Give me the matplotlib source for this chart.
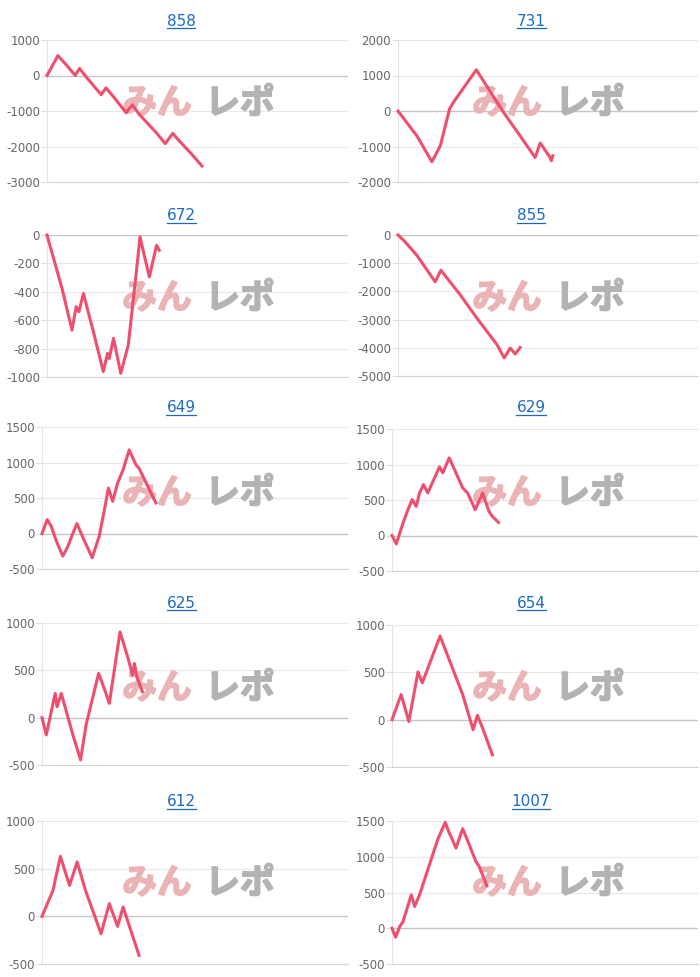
import matplotlib
matplotlib.use("Agg")
import matplotlib.pyplot as plt
import matplotlib.patheffects as pe
from matplotlib.lines import Line2D

# machine numbers shown as panel titles
titles = ["858", "731", "672", "855", "649", "629", "625", "654", "612", "1007"]

# y ticks of each panel
ticks_858 = [1000, 0, -1000, -2000, -3000]
ticks_731 = [2000, 1000, 0, -1000, -2000]
ticks_672 = [0, -200, -400, -600, -800, -1000]
ticks_855 = [0, -1000, -2000, -3000, -4000, -5000]
ticks_649 = [1500, 1000, 500, 0, -500]
ticks_629 = [1500, 1000, 500, 0, -500]
ticks_625 = [1000, 500, 0, -500]
ticks_654 = [1000, 500, 0, -500]
ticks_612 = [1000, 500, 0, -500]
ticks_1007 = [1500, 1000, 500, 0, -500]

# progress (x, share of the day) and balance (y)
x_858 = [0, 0.8, 3.6, 6.3, 9.4, 10.8, 13.0, 18.0, 19.6, 22.4, 26.3, 28.3, 30.7, 36.3, 39.3, 41.8, 43.5, 47.9, 51.5]
y_858 = [0, 120, 560, 310, 0, 200, -40, -540, -350, -630, -1050, -820, -1100, -1610, -1920, -1630, -1800, -2200, -2550]

x_731 = [0, 6.3, 11.3, 14.1, 17.2, 18.5, 26.1, 35.2, 40.7, 45.7, 47.4, 50.7, 51.1, 51.6]
y_731 = [0, -700, -1430, -980, 60, 250, 1160, -40, -700, -1310, -900, -1310, -1400, -1260]

x_672 = [0, 2.2, 5.0, 8.3, 9.7, 10.6, 12.1, 15.4, 18.7, 20.1, 20.7, 22.1, 24.5, 27.0, 29.8, 30.9, 34.0, 36.4, 37.3]
y_672 = [0, -166, -377, -670, -505, -540, -412, -681, -962, -834, -870, -728, -974, -775, -236, -14, -295, -73, -108]

x_855 = [0, 1.9, 6.3, 12.4, 14.3, 20.8, 26.3, 33.0, 35.4, 37.4, 39.1, 40.7]
y_855 = [0, -190, -720, -1660, -1250, -2130, -2950, -3890, -4360, -4010, -4220, -3990]

x_649 = [0, 1.7, 3.0, 4.7, 6.8, 8.5, 9.5, 11.4, 13.9, 16.4, 18.7, 20.4, 21.7, 23.1, 24.7, 26.5, 28.5, 30.7, 31.7, 37.2]
y_649 = [0, 196, 103, -107, -318, -178, -61, 140, -107, -341, -37, 336, 640, 453, 710, 897, 1178, 967, 920, 430]

x_629 = [0, 1.4, 3.6, 5.2, 6.6, 7.9, 9.0, 10.3, 11.7, 15.5, 16.6, 18.7, 23.1, 24.7, 27.2, 29.6, 31.7, 32.8, 34.8]
y_629 = [0, -118, 175, 363, 505, 410, 599, 717, 599, 967, 882, 1094, 670, 599, 363, 599, 340, 269, 184]

x_625 = [0, 1.4, 4.3, 4.9, 6.3, 10.1, 12.6, 14.4, 18.5, 20.7, 22.0, 25.5, 28.0, 29.6, 30.2, 31.0, 32.8]
y_625 = [0, -182, 256, 116, 256, -182, -446, -77, 468, 274, 151, 905, 642, 449, 572, 432, 274]

x_654 = [0, 3.0, 5.5, 8.5, 9.9, 15.7, 23.1, 26.5, 27.9, 29.6, 32.8]
y_654 = [0, 265, -20, 505, 389, 883, 265, -106, 46, -88, -371]

x_612 = [0, 3.6, 6.0, 9.0, 11.5, 14.2, 19.3, 22.0, 24.7, 26.5, 31.7]
y_612 = [0, 273, 629, 325, 570, 273, -182, 133, -105, 98, -409]

x_1007 = [0, 1.2, 2.5, 3.6, 6.3, 7.4, 9.0, 15.0, 17.4, 18.7, 19.5, 20.9, 23.1, 24.5, 27.4, 28.5, 31.0]
y_1007 = [0, -126, 23, 93, 467, 304, 467, 1248, 1481, 1332, 1262, 1121, 1392, 1248, 935, 864, 593]

series = [
    (x_858, y_858, ticks_858), (x_731, y_731, ticks_731),
    (x_672, y_672, ticks_672), (x_855, y_855, ticks_855),
    (x_649, y_649, ticks_649), (x_629, y_629, ticks_629),
    (x_625, y_625, ticks_625), (x_654, y_654, ticks_654),
    (x_612, y_612, ticks_612), (x_1007, y_1007, ticks_1007),
]

# axes boxes in pixels: left, top, bottom
boxes = [
    (47, 40, 182), (398, 40, 182),
    (47, 235, 377), (398, 235, 376),
    (42, 427, 569), (392, 429, 571),
    (42, 623, 765), (392, 625, 767),
    (42, 821, 964), (392, 821, 964),
]
title_y = [21, 21, 216, 216, 408, 408, 603, 603, 802, 802]

W, H = 700, 977
fig = plt.figure(figsize=(W / 100, H / 100), dpi=100)
fig.patch.set_facecolor("white")

line_color = "#ef4f6e"
link_color = "#1a6ac4"
jp = ["Noto Sans CJK JP", "DejaVu Sans"]

title_texts = []
for i, (xs, ys, ticks) in enumerate(series):
    col = i % 2
    row = i // 2
    left, top, bottom = boxes[i]
    right = col * 350 + 348
    ax = fig.add_axes([left / W, 1 - bottom / H, (right - left) / W, (bottom - top) / H])
    ax.set_xlim(0, 100)
    ax.set_ylim(min(ticks), max(ticks))
    ax.set_yticks(ticks)
    ax.set_yticklabels([str(t) for t in ticks])
    ax.set_xticks([])
    ax.tick_params(axis="y", length=4, width=0.8, color="#dddddd", labelcolor="#666666",
                   labelsize=8.5, pad=1)
    ax.grid(axis="y", color="#e8e8e8", linewidth=0.8)
    ax.set_axisbelow(True)
    for s in ["top", "right"]:
        ax.spines[s].set_visible(False)
    ax.spines["left"].set_color("#e4e4e4")
    ax.spines["left"].set_linewidth(0.8)
    ax.spines["bottom"].set_color("#d4d4d4")
    ax.spines["bottom"].set_linewidth(0.8)
    ax.axhline(0, color="#c4c4c4", linewidth=0.9, zorder=1)

    # watermark logo, under the line
    cx = col * 350
    cy = row * 195
    ax.text((cx + 157) / W, 1 - (cy + 103) / H, "みん", family=jp, fontsize=25,
            fontweight="bold", color="#eab4b6", ha="center", va="center", zorder=2,
            transform=fig.transFigure, clip_on=False,
            path_effects=[pe.withStroke(linewidth=1.2, foreground="#eab4b6")])
    ax.text((cx + 240) / W, 1 - (cy + 103) / H, "レポ", family=jp, fontsize=25,
            fontweight="bold", color="#b3b3b3", ha="center", va="center", zorder=2,
            transform=fig.transFigure, clip_on=False,
            path_effects=[pe.withStroke(linewidth=1.2, foreground="#b3b3b3")])

    ax.plot(xs, ys, color=line_color, linewidth=2.2, solid_joinstyle="round", clip_on=False, zorder=3)

    t = fig.text((cx + 181) / W, 1 - title_y[i] / H, titles[i], color=link_color,
                 fontsize=11, ha="center", va="center")
    title_texts.append(t)

# underline the titles like links
fig.canvas.draw()
renderer = fig.canvas.get_renderer()
for t in title_texts:
    bb = t.get_window_extent(renderer)
    yline = bb.y0 + 1
    fig.add_artist(Line2D([bb.x0 / W, bb.x1 / W], [yline / H, yline / H],
                          color=link_color, linewidth=0.9, transform=fig.transFigure))

fig.savefig("out.png", dpi=100, facecolor="white")
